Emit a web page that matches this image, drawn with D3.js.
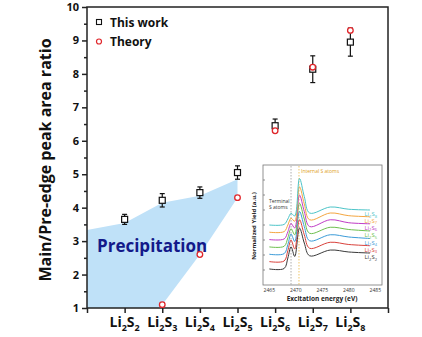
<!DOCTYPE html>
<html>
<head>
<meta charset="utf-8">
<script src="https://cdn.jsdelivr.net/npm/d3@7"></script>
<style>
  body { margin: 0; background: #fff; }
  text { font-family: "Open Sans", "Liberation Sans", sans-serif; }
</style>
</head>
<body>
<div id="chart"></div>
<script>
// main chart data
var categories = ["2", "3", "4", "5", "6", "7", "8"];   // Li2Sn, n
var thisWork = [3.65, 4.22, 4.45, 5.05, 6.45, 8.14, 8.95];
var errWork  = [0.15, 0.2, 0.17, 0.2, 0.2, 0.4, 0.42];
var theory   = [null, 1.1, 2.6, 4.3, 6.3, 8.2, 9.3];
// precipitation region outline (x as category position, y as ratio)
var precipX = [0, 1, 2, 3, 4, 4, 3, 2, 1.93, 0];
var precipY = [3.33, 3.54, 4.15, 4.36, 4.85, 4.3, 2.6, 1.1, 1.0, 1.0];

// inset spectra data
var energy = [2465, 2467.8, 2468.5, 2469.1, 2469.8, 2470.7, 2471.6, 2472.6, 2476.5, 2480, 2484];
var specLi2S2 = [1.07, 1.1, 1.8, 2.55, 1.9, 3.8, 2.8, 1.95, 2.33, 2.2, 2.13];
var specLi2S3 = [1.56, 1.6, 2.3, 3.0, 2.4, 4.35, 3.35, 2.45, 2.85, 2.7, 2.62];
var specLi2S4 = [2.05, 2.09, 2.7, 3.4, 2.9, 4.9, 3.9, 2.95, 3.35, 3.2, 3.1];
var specLi2S5 = [2.54, 2.58, 3.15, 3.75, 3.35, 5.45, 4.4, 3.45, 3.85, 3.7, 3.6];
var specLi2S6 = [3.03, 3.07, 3.55, 4.1, 3.8, 6.0, 4.9, 3.9, 4.35, 4.15, 4.08];
var specLi2S7 = [3.52, 3.56, 4.0, 4.45, 4.25, 6.55, 5.4, 4.35, 4.8, 4.62, 4.55];
var specLi2S8 = [4.0, 4.04, 4.4, 4.78, 4.6, 7.1, 5.9, 4.8, 5.2, 5.05, 5.0];
var specColors = ["#3a3a3a", "#d9413b", "#3b9bd8", "#6dbf4e", "#c03cc6", "#f4a640", "#4cc4c8"];
var insetTicksX = [2465, 2470, 2475, 2480, 2485];

var W = 422, H = 337;
var svg = d3.select("#chart").append("svg")
    .attr("width", W)
    .attr("height", H);

var x = d3.scaleLinear().domain([0, 8]).range([87, 388]);
var y = d3.scaleLinear().domain([1, 10]).range([308, 7]);

// precipitation area
var precip = precipX.map(function(d, i) { return [x(d), y(precipY[i])]; });
svg.append("path")
    .attr("d", "M" + precip.join("L") + "Z")
    .attr("fill", "#bfe1f8");

svg.append("text")
    .attr("x", 97)
    .attr("y", 252)
    .text("Precipitation")
    .attr("font-size", "17px")
    .attr("font-weight", 700)
    .attr("fill", "#13198a");

// frame
svg.append("rect")
    .attr("x", x(0)).attr("y", y(10))
    .attr("width", x(8) - x(0)).attr("height", y(1) - y(10))
    .attr("fill", "none").attr("stroke", "#222").attr("stroke-width", 1.5);

// y axis
var yAxis = svg.append("g").attr("transform", "translate(" + x(0) + ",0)")
    .call(d3.axisLeft(y).tickValues(d3.range(1, 11)).tickSize(5).tickPadding(3).tickFormat(d3.format("d")));
yAxis.append("g")
    .call(d3.axisLeft(y).tickValues(d3.range(1.5, 10, 1)).tickSize(3).tickFormat(""));
svg.selectAll(".domain").remove();
yAxis.selectAll("line").attr("stroke", "#222").attr("stroke-width", 1.5);
yAxis.selectAll("text").attr("font-size", "11px").attr("font-weight", 700).attr("fill", "#111")
    .style("font-family", "'Open Sans', sans-serif");

// x axis
var xAxis = svg.append("g").attr("transform", "translate(0," + y(1) + ")")
    .call(d3.axisBottom(x).tickValues(d3.range(0, 9)).tickSize(5).tickFormat(""));
xAxis.select(".domain").remove();
xAxis.selectAll("line").attr("stroke", "#222").attr("stroke-width", 1.5);

var xl = svg.append("g").selectAll("text")
    .data(categories)
    .enter()
    .append("text")
    .attr("x", function(d, i) { return x(i + 1); })
    .attr("y", 327)
    .attr("text-anchor", "middle")
    .attr("font-size", "14px")
    .attr("font-weight", 700)
    .attr("fill", "#111");
xl.append("tspan").text("Li");
xl.append("tspan").text("2").attr("font-size", "9px").attr("dy", 4);
xl.append("tspan").text("S").attr("dy", -4);
xl.append("tspan").text(function(d) { return d; }).attr("font-size", "9px").attr("dy", 4);

svg.append("text")
    .attr("transform", "translate(51,160) rotate(-90)")
    .attr("text-anchor", "middle")
    .text("Main/Pre-edge peak area ratio")
    .attr("font-size", "16px")
    .attr("font-weight", 700)
    .attr("fill", "#111");

// inset
var ix = d3.scaleLinear().domain([2465, 2485]).range([269.3, 375.3]);
var iy = d3.scaleLinear().domain([0, 8]).range([285, 165]);
var inset = svg.append("g");
inset.append("rect")
    .attr("x", 263).attr("y", 165).attr("width", 119).attr("height", 120)
    .attr("fill", "#fff").attr("stroke", "#777").attr("stroke-width", 0.8);

inset.selectAll(".ivl")
    .data([[2469.1, "#999"], [2470.6, "#e8b640"]])
    .enter()
    .append("line")
    .attr("x1", function(d) { return ix(d[0]); })
    .attr("x2", function(d) { return ix(d[0]); })
    .attr("y1", 166).attr("y2", 285)
    .attr("stroke", function(d) { return d[1]; })
    .attr("stroke-width", 0.8)
    .attr("stroke-dasharray", "1.5,1.5");

var specs = [specLi2S2, specLi2S3, specLi2S4, specLi2S5, specLi2S6, specLi2S7, specLi2S8];
var line = d3.line()
    .x(function(d, i) { return ix(energy[i]); })
    .y(function(d) { return iy(d); })
    .curve(d3.curveCatmullRom.alpha(0.5));

specs.forEach(function(s, k) {
    inset.append("path")
        .attr("d", line(s))
        .attr("fill", "none")
        .attr("stroke", specColors[k])
        .attr("stroke-width", 1);
    var lab = inset.append("text")
        .attr("x", 377)
        .attr("y", iy(s[s.length - 1]) + 6)
        .attr("text-anchor", "end")
        .attr("font-size", "6px")
        .attr("fill", specColors[k]);
    lab.append("tspan").text("Li");
    lab.append("tspan").text("2").attr("font-size", "4px").attr("dy", 1.5);
    lab.append("tspan").text("S").attr("dy", -1.5);
    lab.append("tspan").text(categories[k]).attr("font-size", "4px").attr("dy", 1.5);
});

inset.selectAll(".ity")
    .data(d3.range(1, 8))
    .enter()
    .append("line")
    .attr("x1", 263).attr("x2", 265)
    .attr("y1", function(d) { return iy(d); })
    .attr("y2", function(d) { return iy(d); })
    .attr("stroke", "#777").attr("stroke-width", 0.8);

inset.selectAll(".itx")
    .data(insetTicksX)
    .enter()
    .append("text")
    .attr("x", function(d) { return ix(d); })
    .attr("y", 292)
    .attr("text-anchor", "middle")
    .attr("font-size", "5px")
    .attr("fill", "#333")
    .text(function(d) { return d; });

inset.append("text")
    .attr("x", 322).attr("y", 301)
    .attr("text-anchor", "middle")
    .attr("font-size", "6.5px")
    .attr("font-weight", 700)
    .attr("fill", "#222")
    .text("Excitation energy (eV)");

inset.append("text")
    .attr("transform", "translate(256,226) rotate(-90)")
    .attr("text-anchor", "middle")
    .attr("font-size", "6px")
    .attr("font-weight", 700)
    .attr("fill", "#222")
    .text("Normalized Yield (a.u.)");

inset.append("text")
    .attr("x", 301).attr("y", 173)
    .attr("font-size", "5px")
    .attr("fill", "#e0a020")
    .text("Internal S atoms");

inset.append("text")
    .attr("x", 269).attr("y", 203)
    .attr("font-size", "5px")
    .attr("fill", "#333")
    .text("Terminal");
inset.append("text")
    .attr("x", 269).attr("y", 209)
    .attr("font-size", "5px")
    .attr("fill", "#333")
    .text("S atoms");

// error bars + points
var pts = svg.append("g");
thisWork.forEach(function(v, i) {
    var cx = x(i + 1), e = errWork[i];
    pts.append("line")
        .attr("x1", cx).attr("x2", cx)
        .attr("y1", y(v - e)).attr("y2", y(v + e))
        .attr("stroke", "#111").attr("stroke-width", 1.2);
    [v - e, v + e].forEach(function(t) {
        pts.append("line")
            .attr("x1", cx - 2.5).attr("x2", cx + 2.5)
            .attr("y1", y(t)).attr("y2", y(t))
            .attr("stroke", "#111").attr("stroke-width", 1.2);
    });
    pts.append("rect")
        .attr("x", cx - 3).attr("y", y(v) - 3)
        .attr("width", 6).attr("height", 6)
        .attr("fill", "#fff").attr("stroke", "#111").attr("stroke-width", 1.2);
});

pts.selectAll("circle")
    .data(theory.map(function(v, i) { return [i + 1, v]; }).filter(function(d) { return d[1] != null; }))
    .enter()
    .append("circle")
    .attr("cx", function(d) { return x(d[0]); })
    .attr("cy", function(d) { return y(d[1]); })
    .attr("r", 2.8)
    .attr("fill", "#fff")
    .attr("stroke", "#e0262b")
    .attr("stroke-width", 1.3);

// legend
svg.append("rect")
    .attr("x", 96.5).attr("y", 19.5).attr("width", 5).attr("height", 5)
    .attr("fill", "#fff").attr("stroke", "#111").attr("stroke-width", 1.1);
svg.append("circle")
    .attr("cx", 99).attr("cy", 41.5).attr("r", 2.5)
    .attr("fill", "#fff").attr("stroke", "#e0262b").attr("stroke-width", 1.2);
svg.append("text")
    .attr("x", 110).attr("y", 26.5)
    .text("This work")
    .attr("font-size", "12px").attr("font-weight", 700).attr("fill", "#111");
svg.append("text")
    .attr("x", 110).attr("y", 46)
    .text("Theory")
    .attr("font-size", "12px").attr("font-weight", 700).attr("fill", "#111");
</script>
</body>
</html>
